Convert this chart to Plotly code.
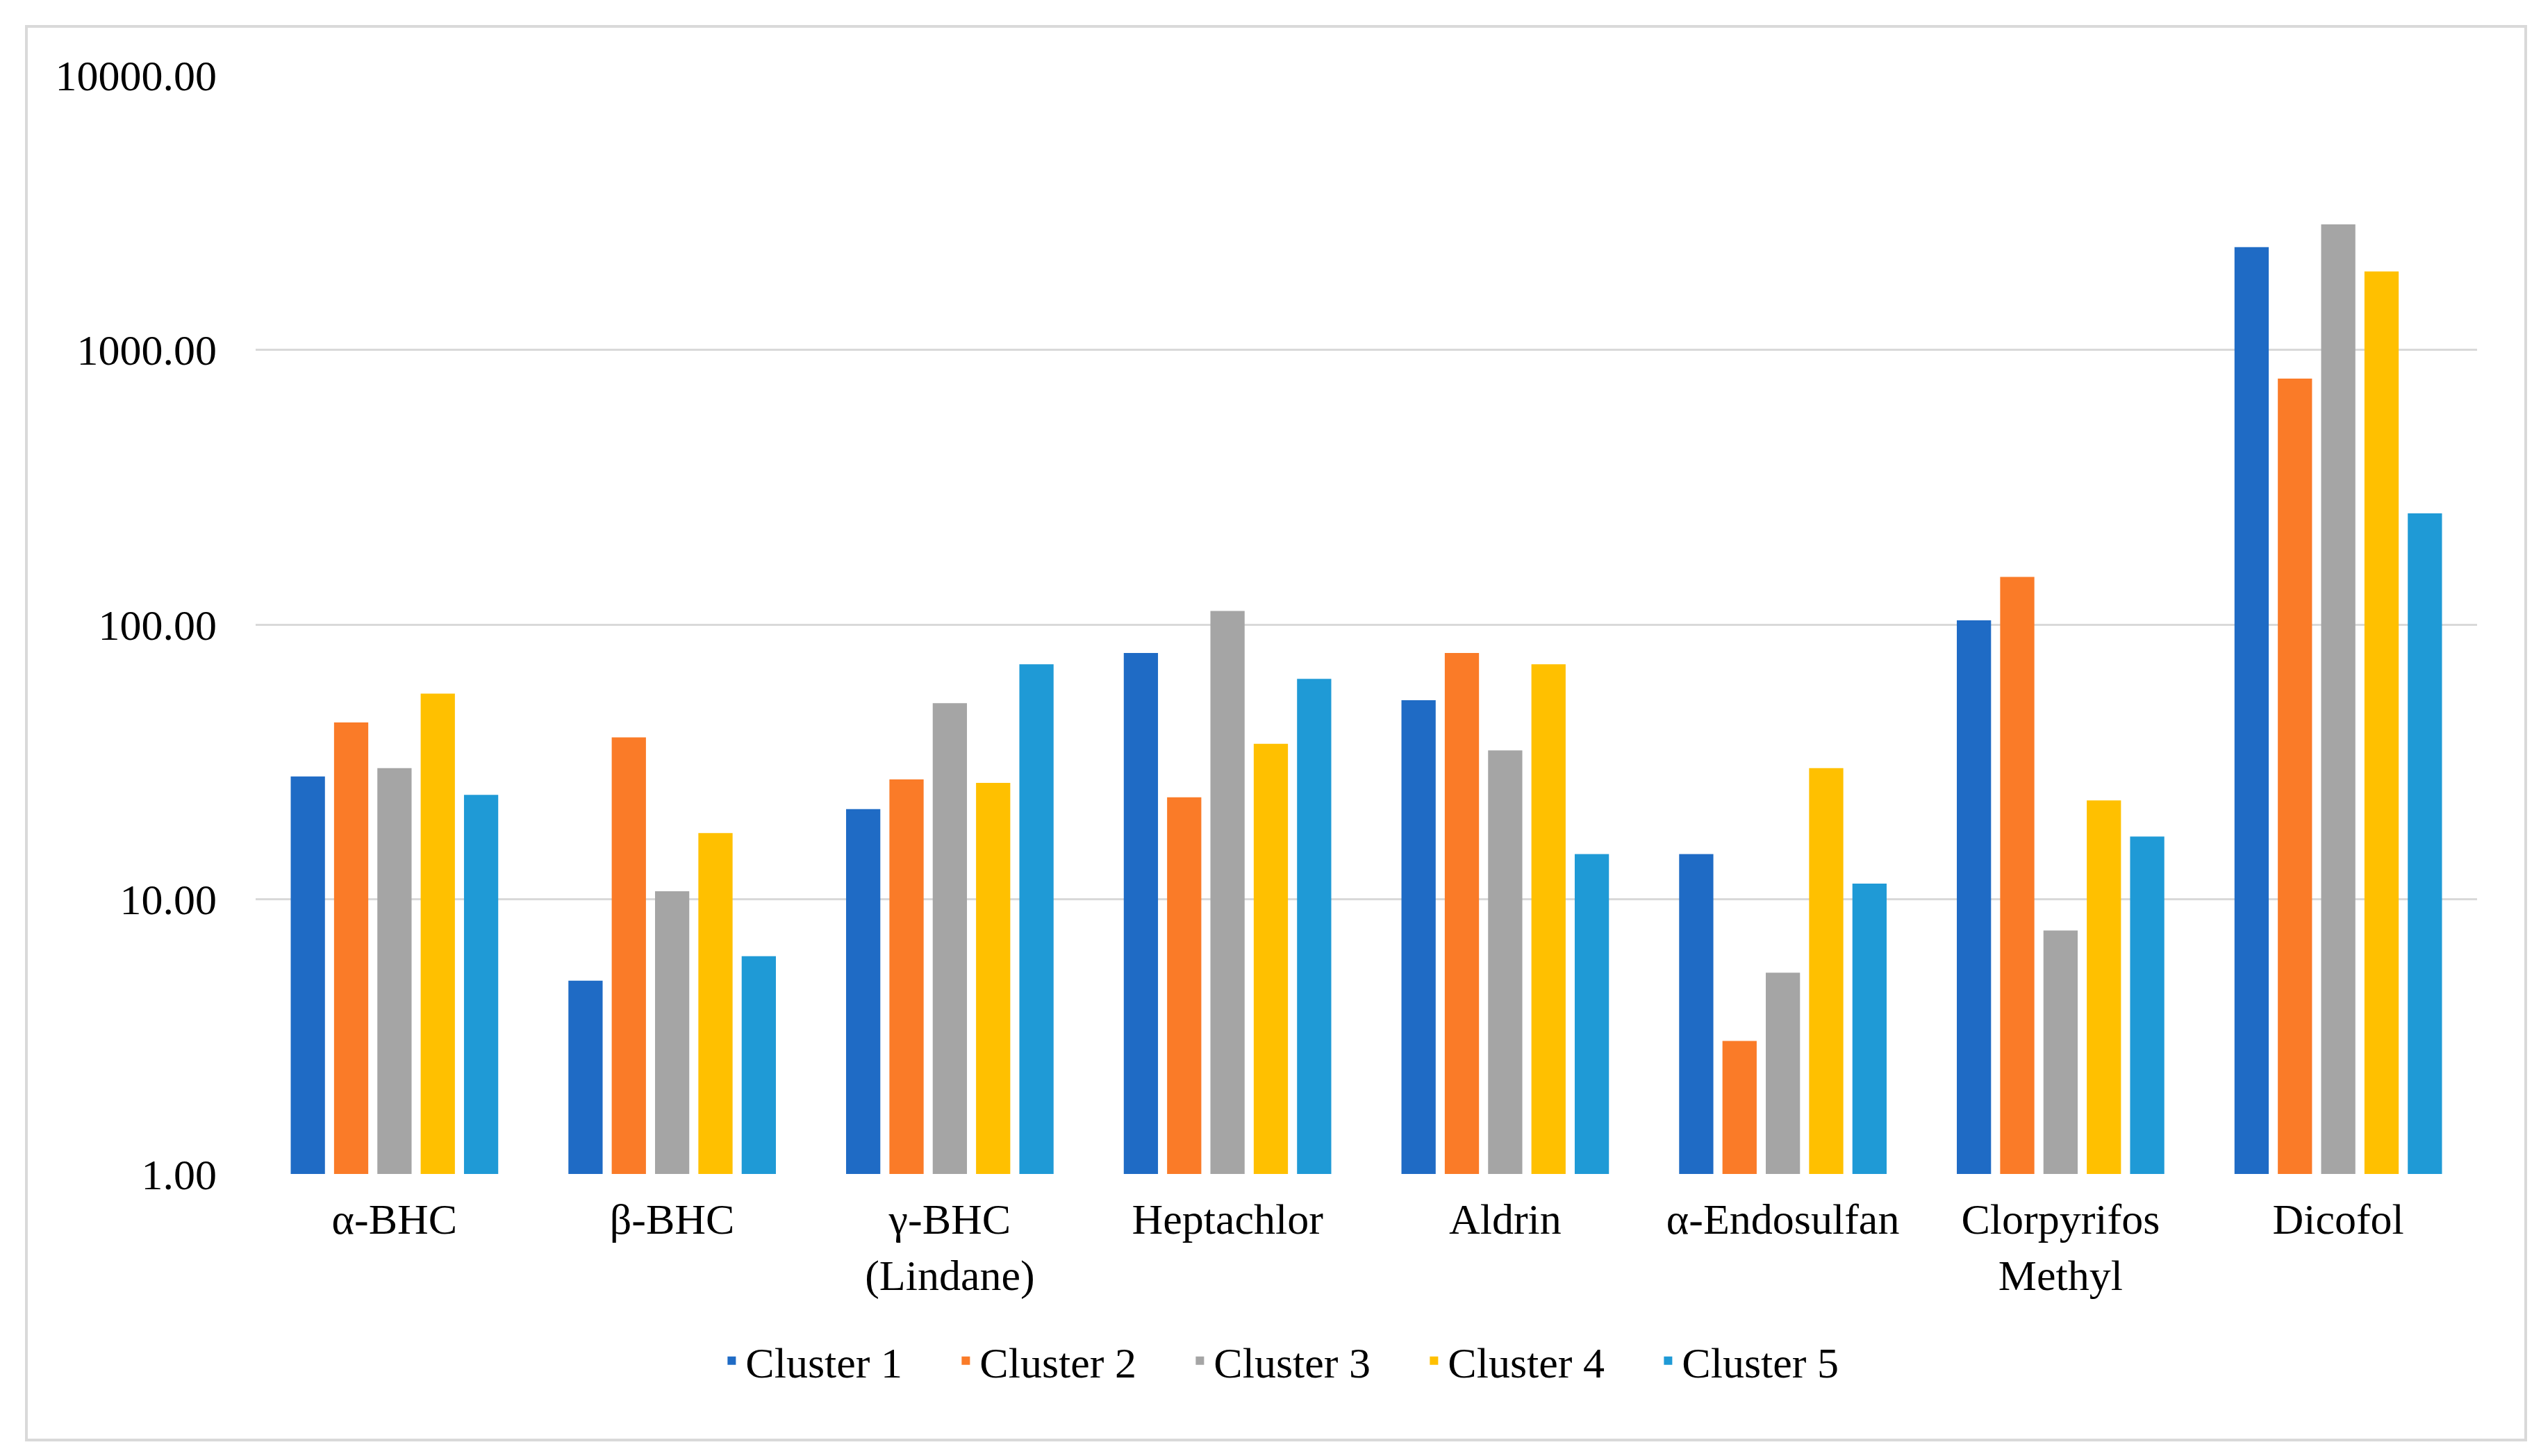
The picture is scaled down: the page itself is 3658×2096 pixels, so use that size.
import plotly.graph_objects as go

categories = ["α-BHC", "β-BHC", "γ-BHC<br>(Lindane)", "Heptachlor", "Aldrin",
              "α-Endosulfan", "Clorpyrifos<br>Methyl", "Dicofol"]
series_names = ["Cluster 1", "Cluster 2", "Cluster 3", "Cluster 4", "Cluster 5"]
cluster1 = [28.0, 5.05, 21.3, 78.8, 53.0, 14.6, 103.5, 2365]
cluster2 = [44.0, 38.8, 27.3, 23.5, 78.8, 3.05, 149.0, 785]
cluster3 = [30.0, 10.7, 51.7, 112.0, 34.8, 5.4, 7.7, 2860]
cluster4 = [56.0, 17.4, 26.5, 36.8, 71.7, 30.0, 22.9, 1928]
cluster5 = [24.0, 6.2, 71.7, 63.4, 14.6, 11.4, 16.9, 254]
tick_values = [1, 10, 100, 1000, 10000]

colors = ["#1F6BC5", "#FA7B28", "#A5A5A5", "#FFC000", "#1F9AD6"]
series = [cluster1, cluster2, cluster3, cluster4, cluster5]

W, H = 3658, 2096
ml, mr, mt, mb = 360, 100, 100, 414
font_family = "Liberation Serif, Times New Roman, serif"
fs = 62

fig = go.Figure()
for name, vals, col in zip(series_names, series, colors):
    fig.add_trace(go.Bar(name=name, x=categories, y=vals, marker=dict(color=col, line=dict(width=0))))

pw = W - ml - mr
ph = H - mt - mb

fig.update_layout(
    width=W, height=H,
    margin=dict(l=ml, r=mr, t=mt, b=mb),
    paper_bgcolor="white", plot_bgcolor="white",
    barmode="group", bargap=0.22, bargroupgap=0.21,
    font=dict(family=font_family, size=fs, color="black"),
    showlegend=True,
    legend=dict(orientation="h", x=0.4715, xanchor="center", y=(H - mb - 1951) / ph, yanchor="middle",
                font=dict(family=font_family, size=fs, color="black"),
                entrywidth=292, entrywidthmode="pixels", itemwidth=30),
    xaxis=dict(showgrid=False, showline=False, ticks="", tickfont=dict(size=fs),
               ticklabelstandoff=23, zeroline=False),
    yaxis=dict(type="log", range=[0, 4], tickvals=tick_values, tickformat=".2f",
               showgrid=True, gridcolor="#D9D9D9", gridwidth=3, showline=False, ticks="",
               zeroline=False, tickfont=dict(size=fs), ticklabelstandoff=55),
    shapes=[dict(type="rect", xref="paper", yref="paper",
                 x0=(30 - ml) / pw, x1=(3628 - ml) / pw,
                 y0=((H - mb) - 2065) / ph, y1=((H - mb) - 30) / ph,
                 line=dict(color="#D9D9D9", width=4), fillcolor="rgba(0,0,0,0)", layer="below")],
)

fig.write_html("out.html")
